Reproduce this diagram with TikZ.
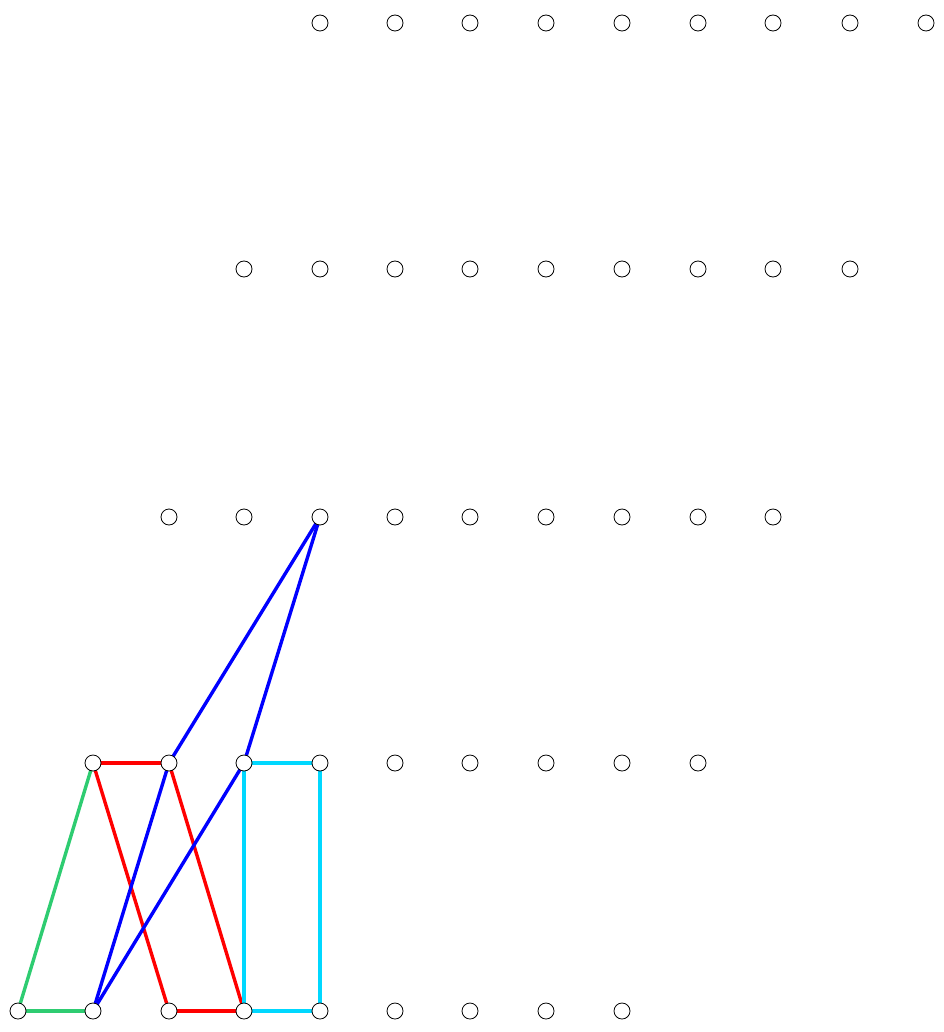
\documentclass[tikz,border=0pt]{standalone}
\pgfdeclarelayer{background}
\pgfsetlayers{background,main}
\begin{document}
\begin{tikzpicture}[x=1pt,y=-1pt,
  vtx/.style={circle,draw=black,fill=white,line width=0.8pt,minimum size=16pt,inner sep=0pt},
  edg/.style={line width=3.4pt},
  cgreen/.style={edg,draw={rgb,255:red,46;green,204;blue,113}},
  cred/.style={edg,draw=red},
  cblue/.style={edg,draw=blue},
  ccyan/.style={edg,draw={rgb,255:red,0;green,216;blue,255}}]
\useasboundingbox (0,0) rectangle (943,1032);
% rows
\foreach \i/\x in {1/320,2/395,3/470,4/546,5/622,6/698,7/773,8/850,9/926}
  \node[vtx] (a\i) at (\x,23) {};
\foreach \i/\x in {1/244,2/320,3/395,4/470,5/546,6/622,7/698,8/773,9/850}
  \node[vtx] (b\i) at (\x,269) {};
\foreach \i/\x in {1/169,2/244,3/320,4/395,5/470,6/546,7/622,8/698,9/773}
  \node[vtx] (c\i) at (\x,517) {};
\foreach \i/\x in {1/93,2/169,3/244,4/320,5/395,6/470,7/546,8/622,9/698}
  \node[vtx] (d\i) at (\x,763) {};
\foreach \i/\x in {1/18,2/93,3/169,4/244,5/320,6/395,7/470,8/546,9/622}
  \node[vtx] (e\i) at (\x,1011) {};
% edges (behind nodes)
\begin{pgfonlayer}{background}
\draw[cgreen] (e1.center) -- (d1.center);
\draw[cgreen] (e1.center) -- (e2.center);
\draw[cred] (d1.center) -- (d2.center);
\draw[cred] (d1.center) -- (e3.center);
\draw[cred] (d2.center) -- (e4.center);
\draw[cred] (e3.center) -- (e4.center);
\draw[cblue] (c3.center) -- (d2.center);
\draw[cblue] (c3.center) -- (d3.center);
\draw[cblue] (d2.center) -- (e2.center);
\draw[cblue] (d3.center) -- (e2.center);
\draw[ccyan] (d3.center) -- (d4.center);
\draw[ccyan] (d3.center) -- (e4.center);
\draw[ccyan] (d4.center) -- (e5.center);
\draw[ccyan] (e4.center) -- (e5.center);
\end{pgfonlayer}
\end{tikzpicture}
\end{document}
